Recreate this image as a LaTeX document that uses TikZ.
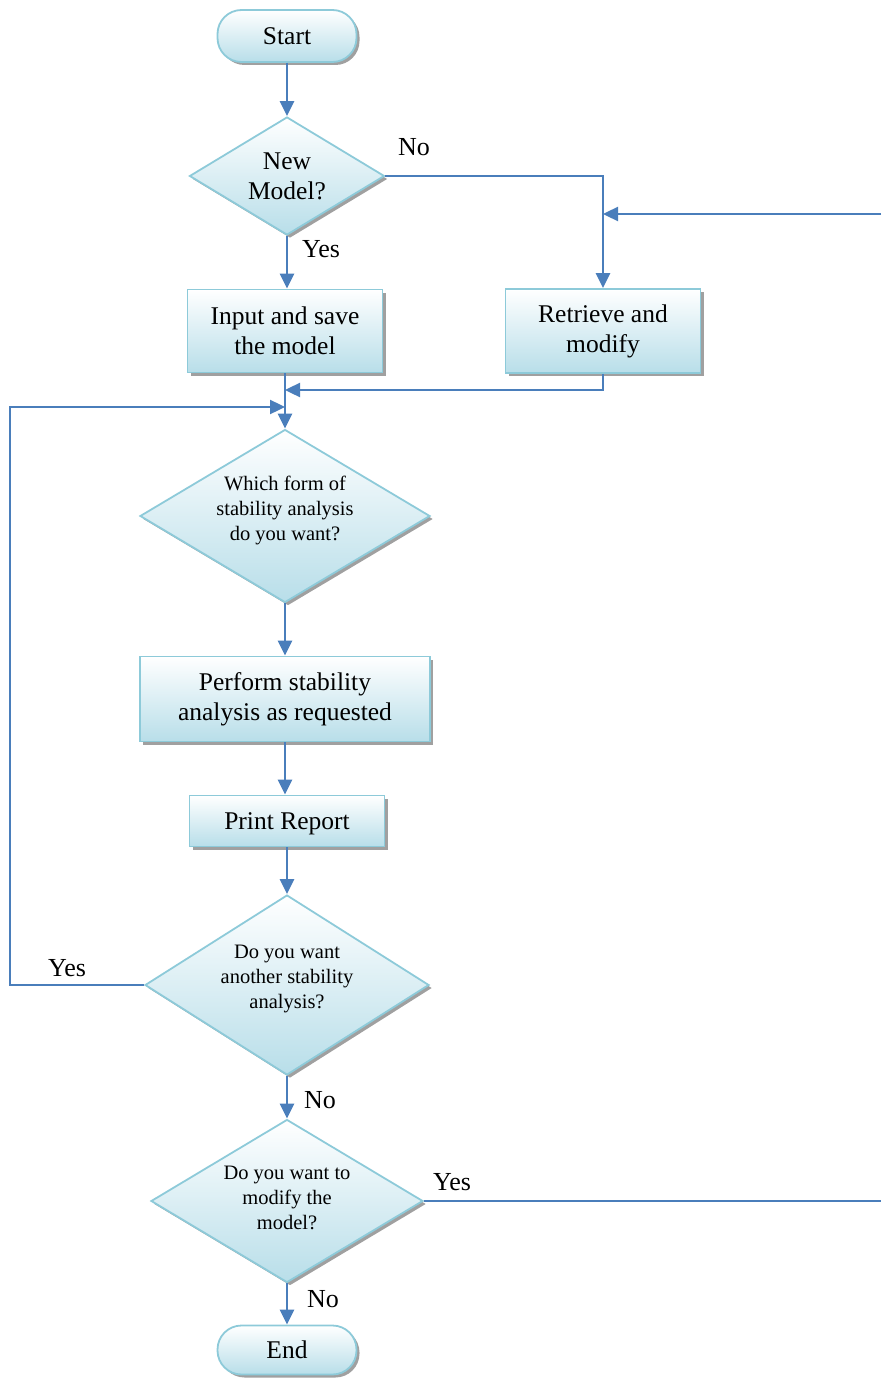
\documentclass[tikz,border=0pt]{standalone}
\usepackage{fontspec}
\setmainfont{Liberation Serif}
\usetikzlibrary{shapes.geometric,shadows,arrows.meta}
\definecolor{flowblue}{HTML}{4A7EBB}
\definecolor{edgeblue}{HTML}{8DCAD9}
\definecolor{fillblue}{HTML}{B8DEE9}
\definecolor{shadowgray}{HTML}{A0A0A0}
\begin{document}
\begin{tikzpicture}[x=1pt,y=-1pt,
  shaped/.style={draw=edgeblue, line width=1.8pt, top color=white, bottom color=fillblue,
    drop shadow={shadow xshift=3pt,shadow yshift=-3pt,fill=shadowgray,opacity=1},
    align=center, inner sep=0pt},
  bigtext/.style={font=\fontsize{25.5}{30}\selectfont},
  smalltext/.style={font=\fontsize{20.5}{25}\selectfont},
  terminal/.style={shaped, bigtext, rectangle, rounded corners=24pt},
  procbox/.style={shaped, bigtext, rectangle},
  decision/.style={shaped, diamond},
  flow/.style={draw=flowblue, line width=2.4pt, -{Triangle[length=15pt,width=14pt]}},
  plainline/.style={draw=flowblue, line width=2.4pt},
  lbl/.style={font=\fontsize{26}{30}\selectfont, inner sep=0pt}
]
\useasboundingbox (0,0) rectangle (881,1378);

% terminals
\node[terminal, minimum width=139pt, minimum height=52pt] (start) at (287,36) {Start};
\node[terminal, minimum width=139pt, minimum height=49pt] (end) at (287,1350) {End};

% decisions
\node[decision, bigtext, aspect=1.65, minimum width=195pt, minimum height=118pt] (q1) at (287,176) {New\\Model?};
\node[decision, smalltext, aspect=1.68, text depth=16pt, minimum width=290pt, minimum height=173pt] (q2) at (285,516) {Which form of\\stability analysis\\do you want?};
\node[decision, smalltext, aspect=1.58, text depth=16pt, minimum width=284pt, minimum height=180pt] (q3) at (287,985) {Do you want\\another stability\\analysis?};
\node[decision, smalltext, aspect=1.67, text depth=6pt, minimum width=272pt, minimum height=163pt] (q4) at (287,1201) {Do you want to\\modify the\\model?};

% process boxes
\node[procbox, minimum width=195pt, minimum height=83pt] (input) at (285,331) {Input and save\\the model};
\node[procbox, minimum width=195pt, minimum height=84pt] (retr) at (603,331) {Retrieve and\\modify};
\node[procbox, minimum width=290pt, minimum height=85pt] (perf) at (285,699) {Perform stability\\analysis as requested};
\node[procbox, text depth=0pt, minimum width=195pt, minimum height=51pt] (print) at (287,821) {Print Report};

% junction and border points
\coordinate (rin) at (881,214);
\coordinate (rout) at (881,1201);
\coordinate (j1) at (285,390);
\coordinate (j2) at (285,407);
\coordinate (ltop) at (10,407);

% connectors
\draw[flow] (start) -- (q1);
\draw[flow] (q1.east) -| (retr.north);
\draw[flow] (rin) -- (rin -| retr.north);
\draw[flow] (q1.south) -- (q1.south |- input.north);
\draw[flow] (retr.south) |- (j1);
\draw[flow] (input.south) -- (q2.north);
\draw[flow] (q3.west) -| (ltop) -- (j2);
\draw[flow] (q2.south) -- (perf.north);
\draw[flow] (perf.south) -- (perf.south |- print.north);
\draw[flow] (print.south) -- (q3.north);
\draw[flow] (q3.south) -- (q4.north);
\draw[plainline] (q4.east) -- (rout);
\draw[flow] (q4.south) -- (end.north);

% branch labels
\node[lbl, anchor=west] (l1) at (398,147) {No};
\node[lbl, anchor=west] (l2) at (302,249) {Yes};
\node[lbl, anchor=west] (l3) at (48,968) {Yes};
\node[lbl, anchor=west] (l4) at (304,1100) {No};
\node[lbl, anchor=west] (l5) at (433,1182) {Yes};
\node[lbl, anchor=west] (l6) at (307,1299) {No};
\end{tikzpicture}
\end{document}
